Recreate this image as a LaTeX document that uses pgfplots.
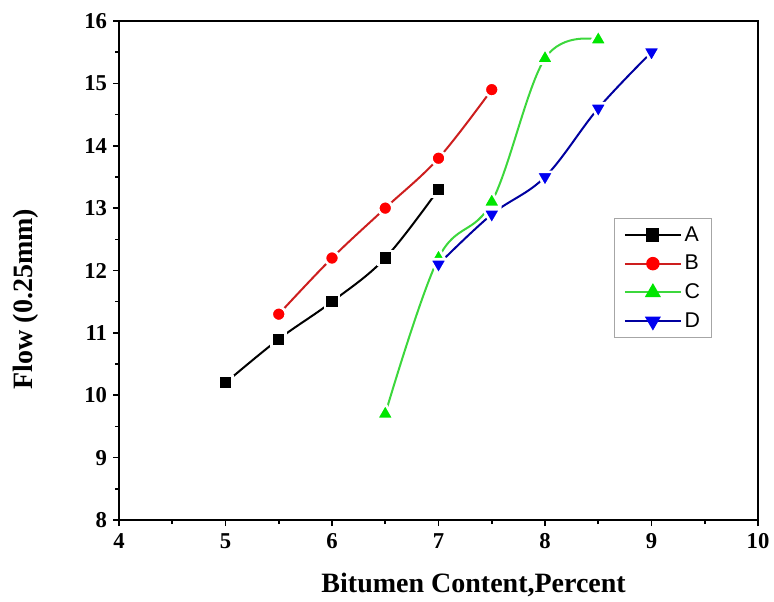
\documentclass[border=0pt]{standalone}
\usepackage{pgfplots}
\pgfplotsset{compat=1.18}
\usepackage{fontspec}
\setmainfont{Liberation Serif}
\newfontfamily\arialfont{Liberation Sans}
\definecolor{cA}{RGB}{0,0,0}
\definecolor{cB}{RGB}{255,0,0}
\definecolor{cBl}{RGB}{205,30,30}
\definecolor{cC}{RGB}{0,230,0}
\definecolor{cCl}{RGB}{60,215,60}
\definecolor{cD}{RGB}{0,0,240}
\definecolor{cDl}{RGB}{0,0,160}
\pgfplotstableread{
x y
5 10.2
5.5 10.9
6 11.5
6.5 12.2
7 13.3
}\dataA
\pgfplotstableread{
x y
5.5 11.3
6 12.2
6.5 13.0
7 13.8
7.5 14.9
}\dataB
\pgfplotstableread{
x y
6.5 9.7
7 12.2
7.5 13.1
8 15.4
8.5 15.7
}\dataC
\pgfplotstableread{
x y
7 12.1
7.5 12.9
8 13.5
8.5 14.6
9 15.5
}\dataD
\begin{document}
\begin{tikzpicture}
\begin{axis}[
  name=ax,
  width=479.25pt,height=374.25pt,scale only axis,
  xmin=4,xmax=10,ymin=8,ymax=16,
  xtick={4,5,...,10},ytick={8,9,...,16},
  minor tick num=1,
  tick align=outside,
  xtick pos=bottom,ytick pos=left,
  major tick length=4.5pt,minor tick length=3pt,
  every tick/.style={black,line width=1.2pt},
  axis line style={line width=1.5pt},
  /pgf/number format/assume math mode=true,
  ticklabel style={font=\fontsize{17}{17}\selectfont\bfseries},
  xticklabel style={yshift=-2pt},
  yticklabel style={xshift=-1pt},
  xlabel={Bitumen Content,Percent},
  ylabel={Flow (0.25mm)},
  label style={font=\fontsize{21}{21}\selectfont\bfseries},
  xlabel style={at={(axis description cs:0.555,-0.146)},anchor=base},
  ylabel style={at={(axis description cs:-0.146,0.443)},anchor=center},
  legend style={at={(axis cs:8.648,12.84)},anchor=north west,
    draw=gray!70,line width=0.8pt,font=\arialfont\fontsize{16}{17}\selectfont,
    row sep=5pt,inner xsep=7pt,inner ysep=4pt},
  legend cell align=left,
  legend image code/.code={\draw[mark repeat=2,mark phase=2]
    plot coordinates {(0pt,0pt)(21pt,0pt)(42pt,0pt)};},
  every axis plot/.append style={line width=1.5pt,smooth,tension=0.6},
]
\addplot[cA,mark=square*,mark size=4.2pt,mark options={fill=cA,solid}] table {\dataA};
\addplot[cBl,mark=*,mark size=4.3pt,mark options={fill=cB,draw=cB}] table {\dataB};
\addplot[cCl,mark=triangle*,mark size=5.5pt,mark options={fill=cC,draw=cC}] table {\dataC};
\addplot[cDl,mark=triangle*,mark size=5.5pt,mark options={fill=cD,draw=cD,rotate=180}] table {\dataD};
\legend{A,B,C,D}
% white halo over the markers, as the lines stop short of them
\addplot[forget plot,only marks,mark=square*,mark size=5.2pt,
  mark options={fill=cA,draw=white,line width=2pt}] table {\dataA};
\addplot[forget plot,only marks,mark=*,mark size=5.3pt,
  mark options={fill=cB,draw=white,line width=2pt}] table {\dataB};
\addplot[forget plot,only marks,mark=triangle*,mark size=7.6pt,
  mark options={fill=cC,draw=white,line width=2pt,line join=round}] table {\dataC};
\addplot[forget plot,only marks,mark=triangle*,mark size=7.6pt,
  mark options={fill=cD,draw=white,line width=2pt,line join=round,rotate=180}] table {\dataD};
\end{axis}
\pgfresetboundingbox
\path ([shift={(-89.25pt,-60.75pt)}]ax.south west) rectangle ([shift={(12pt,15.75pt)}]ax.north east);
\end{tikzpicture}
\end{document}
